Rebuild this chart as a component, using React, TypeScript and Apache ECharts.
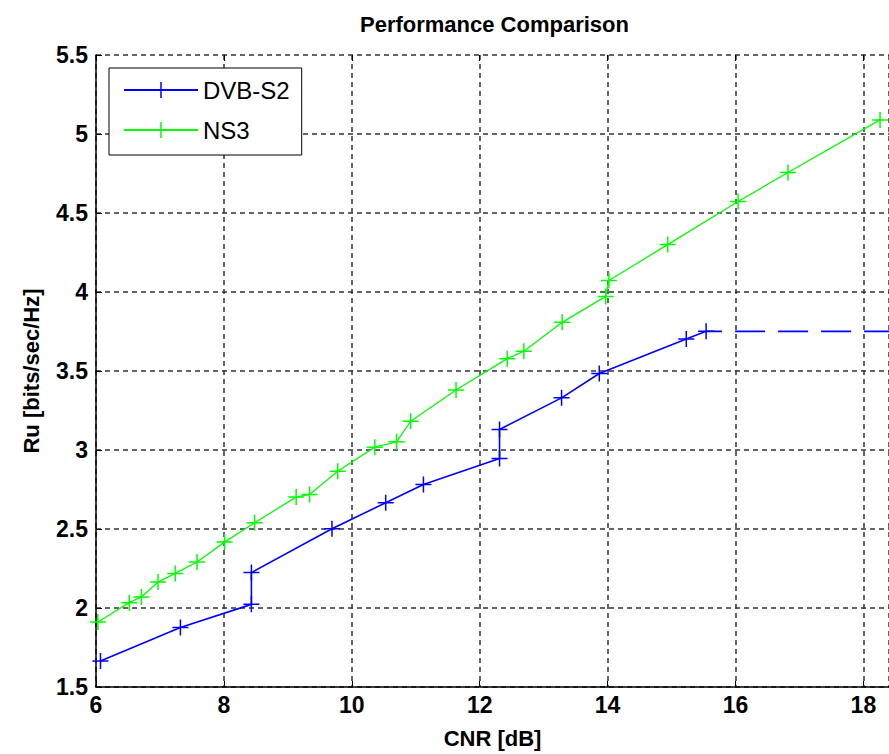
import React, { useEffect, useRef } from "react";
import * as echarts from "echarts";

const dvbX = [6.07, 7.32, 8.43, 8.43, 9.69, 10.53, 11.12, 12.31, 12.31, 13.28, 13.87, 15.23, 15.54];
const dvbY = [1.665, 1.876, 2.023, 2.224, 2.502, 2.666, 2.782, 2.946, 3.13, 3.33, 3.484, 3.703, 3.751];
const limitX = [15.54, 18.4];
const limitY = [3.751, 3.751];
const ns3X = [6.03, 6.52, 6.71, 6.97, 7.24, 7.58, 8.01, 8.48, 9.13, 9.34, 9.78, 10.36, 10.7, 10.92, 11.63, 12.43, 12.69, 13.29, 13.97, 14.02, 14.94, 16.04, 16.82, 18.26];
const ns3Y = [1.911, 2.034, 2.07, 2.164, 2.219, 2.291, 2.417, 2.54, 2.702, 2.719, 2.866, 3.018, 3.052, 3.182, 3.38, 3.578, 3.625, 3.808, 3.972, 4.073, 4.3, 4.573, 4.756, 5.089];
const seriesNames = ["DVB-S2", "NS3"];

const PLUS = "path://M7.25,0 h1.5 v7.25 h7.25 v1.5 h-7.25 v7.25 h-1.5 v-7.25 h-7.25 v-1.5 h7.25 z";
const FONT = "'Liberation Sans', Arial, sans-serif";

const zip = (xs: number[], ys: number[]) => xs.map((x, i) => [x, ys[i]]);

export default function App() {
  const ref = useRef<HTMLDivElement>(null);
  useEffect(() => {
    document.body.style.margin = "0";
    const chart = echarts.init(ref.current!, null, { renderer: "svg" });
    const gridLine = { show: true, lineStyle: { color: "#333", width: 1.5, type: [5, 4] as any } };
    chart.setOption({
      animation: false,
      backgroundColor: "#fff",
      title: {
        text: "Performance Comparison",
        left: 360,
        top: 13,
        padding: 0,
        textStyle: { fontFamily: FONT, fontSize: 22, fontWeight: "bold", color: "#000" },
      },
      legend: {
        data: seriesNames,
        orient: "vertical",
        left: 109,
        top: 68,
        itemWidth: 74,
        itemHeight: 20,
        itemGap: 16,
        padding: [10, 12, 13, 14],
        borderColor: "#000",
        borderWidth: 1,
        borderRadius: 0,
        backgroundColor: "#fff",
        textStyle: { fontFamily: FONT, fontSize: 24, color: "#000", padding: [0, 0, 0, 0] },
      },
      grid: { left: 96, top: 55, right: -2, bottom: 66, containLabel: false },
      xAxis: [
        {
          type: "value",
          min: 6,
          max: 18.4,
          interval: 2,
          name: "CNR [dB]",
          nameLocation: "middle",
          nameGap: 40,
          nameTextStyle: { fontFamily: FONT, fontSize: 22, fontWeight: "bold", color: "#000" },
          axisLine: { show: true, onZero: false, lineStyle: { color: "#000", width: 1.5 } },
          axisTick: { show: true, inside: true, length: 6, lineStyle: { color: "#000" } },
          axisLabel: { fontFamily: FONT, fontSize: 23, fontWeight: "bold", color: "#000", margin: 6 },
          splitLine: gridLine,
        },
        {
          type: "value",
          position: "top",
          min: 6,
          max: 18.4,
          interval: 2,
          axisLine: { show: false },
          axisTick: { show: true, inside: true, length: 6, lineStyle: { color: "#000" } },
          axisLabel: { show: false },
          splitLine: { show: false },
        },
      ],
      yAxis: {
        type: "value",
        min: 1.5,
        max: 5.5,
        interval: 0.5,
        name: "Ru [bits/sec/Hz]",
        nameLocation: "middle",
        nameGap: 54,
        nameTextStyle: { fontFamily: FONT, fontSize: 22, fontWeight: "bold", color: "#000" },
        axisLine: { show: true, lineStyle: { color: "#000", width: 1.5 } },
        axisTick: { show: true, inside: true, length: 6, lineStyle: { color: "#000" } },
        axisLabel: { fontFamily: FONT, fontSize: 23, fontWeight: "bold", color: "#000", margin: 8 },
        splitLine: gridLine,
      },
      series: [
        {
          name: "DVB-S2",
          type: "line",
          data: zip(dvbX, dvbY),
          symbol: PLUS,
          symbolSize: 16,
          showAllSymbol: true,
          itemStyle: { color: "#0000ff" },
          lineStyle: { color: "#0000ff", width: 1.6 },
          z: 3,
        },
        {
          name: "DVB-S2 limit",
          type: "line",
          data: zip(limitX, limitY),
          symbol: "none",
          lineStyle: { color: "#0000ff", width: 1.8, type: [30, 13] as any, dashOffset: 14 },
          z: 3,
        },
        {
          name: "NS3",
          type: "line",
          data: zip(ns3X, ns3Y),
          symbol: PLUS,
          symbolSize: 16,
          showAllSymbol: true,
          itemStyle: { color: "#00ff00" },
          lineStyle: { color: "#00ff00", width: 1.3 },
          z: 3,
        },
      ],
    });
    return () => chart.dispose();
  }, []);
  return <div ref={ref} style={{ width: 889, height: 754 }} />;
}
